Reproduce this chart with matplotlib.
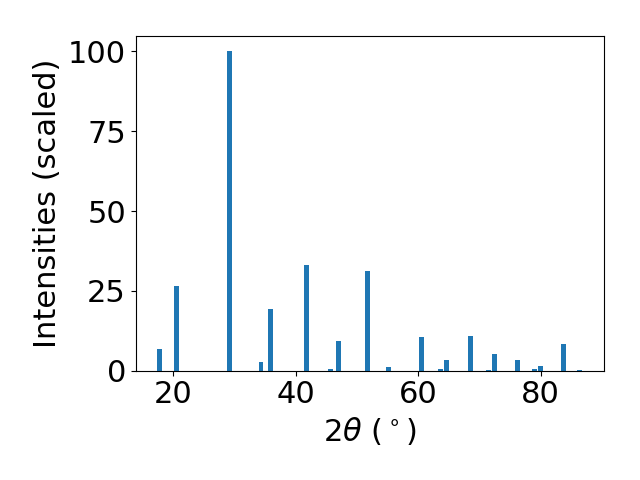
import matplotlib
matplotlib.use("Agg")
import matplotlib.pyplot as plt

two_theta = [17.74, 20.52, 29.19, 34.34, 35.89, 41.77, 45.70, 47.00, 51.75, 55.18,
             60.57, 63.68, 64.66, 68.58, 71.53, 72.51, 76.27, 79.05, 80.03, 83.71, 86.41]
intensities = [6.8, 26.6, 100.0, 2.7, 19.3, 33.2, 0.6, 9.3, 31.3, 1.2,
               10.5, 0.6, 3.3, 10.8, 0.3, 5.2, 3.3, 0.4, 1.5, 8.3, 0.3]

fig = plt.figure(figsize=(6.4, 4.8), dpi=100)
ax = fig.add_axes([0.212, 0.228, 0.731, 0.698])
ax.bar(two_theta, intensities, width=0.8)
ax.set_xlabel(r"$2\theta$ ($^\circ$)", fontsize=22)
ax.set_ylabel("Intensities (scaled)", fontsize=22)
ax.tick_params(labelsize=22)
fig.savefig("out.png")
